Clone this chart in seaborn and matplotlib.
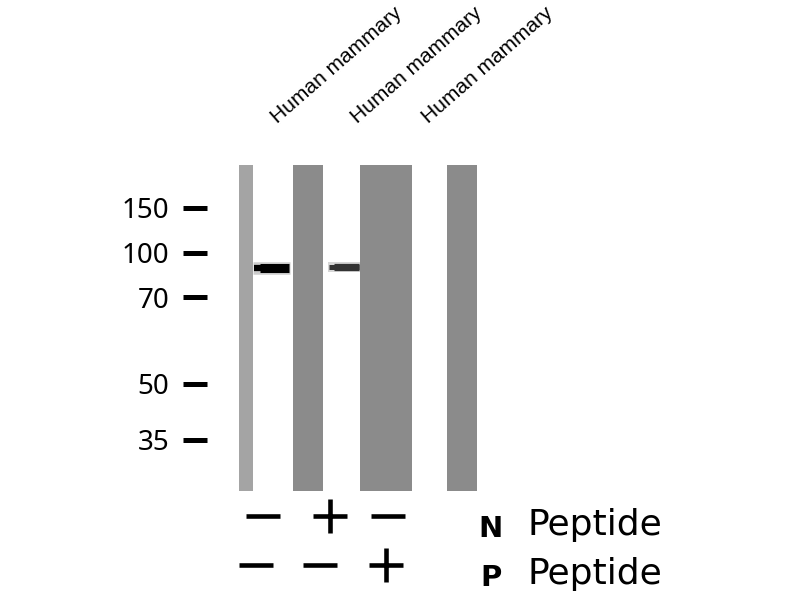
import numpy as np
import pandas as pd
import matplotlib
matplotlib.use('Agg')
import matplotlib.pyplot as plt
from matplotlib.ticker import NullLocator
from matplotlib.transforms import blended_transform_factory
import seaborn as sns

sns.set_style('white')
plt.rcParams['font.family'] = ['DejaVu Sans']
plt.rcParams['text.color'] = 'black'

lane_labels = ['Human mammary', 'Human mammary', 'Human mammary']
marker_kda = [150, 100, 70, 50, 35]
band_kda = [88.5, 89.3, np.nan]      # no band in lane 3
band_strength = [1.0, 0.8, 0.0]
n_peptide = ['-', '+', '-']
p_peptide = ['-', '-', '+']
row_names = ['N', 'P']

# layout (pixels of an 800x600 figure)
blot_left, blot_top, blot_w, blot_h = 239, 165, 238, 326
ladder_px = [43, 88, 132, 219, 275]   # ladder bands, distance from blot top
gray_strips = [(0, 14, '#a4a4a4'), (54, 84, '#8b8b8b'),
               (121, 173, '#8b8b8b'), (208, 238, '#8b8b8b')]
band_x = [(14, 51), (89, 121), (175, 206)]
label_x = [38, 118, 189]
sign_x = [[24, 91, 149], [17, 81, 147]]

# kDa <-> position on the gel (log-linear between ladder bands)
lk = np.log10(np.array(marker_kda[::-1], float))
lp = -np.array(ladder_px[::-1], float)
s0 = (lp[1] - lp[0]) / (lk[1] - lk[0])
s1 = (lp[-1] - lp[-2]) / (lk[-1] - lk[-2])


def kda_to_pos(x):
    l = np.log10(np.clip(np.asarray(x, float), 1e-6, None))
    y = np.interp(l, lk, lp)
    y = np.where(l < lk[0], lp[0] + (l - lk[0]) * s0, y)
    y = np.where(l > lk[-1], lp[-1] + (l - lk[-1]) * s1, y)
    return y


def pos_to_kda(y):
    y = np.asarray(y, float)
    l = np.interp(y, lp, lk)
    l = np.where(y < lp[0], lk[0] + (y - lp[0]) / s0, l)
    l = np.where(y > lp[-1], lk[-1] + (y - lp[-1]) / s1, l)
    return 10 ** l


fig = plt.figure(figsize=(8, 6), dpi=100)
ax = fig.add_axes([blot_left / 800, (600 - blot_top - blot_h) / 600,
                   blot_w / 800, blot_h / 600])
for s in ax.spines.values():
    s.set_visible(False)
ax.spines['left'].set_position(('outward', 23))
ax.set_yscale('function', functions=(kda_to_pos, pos_to_kda))
ax.set_xlim(0, blot_w)
ax.set_ylim(float(pos_to_kda(-blot_h)), float(pos_to_kda(0)))

# masked strips
for a, b, c in gray_strips:
    ax.axvspan(a, b, color=c, lw=0)

# bands
for kda, st, (x0, x1) in zip(band_kda, band_strength, band_x):
    if np.isnan(kda) or st <= 0:
        continue
    g = str(round(1 - st, 2))
    ax.hlines(kda, x0, x1, color=g, lw=9 * st, alpha=0.2, capstyle='butt')
    ax.hlines(kda, x0 + 0.2 * (x1 - x0), x1 - 1, color=g, lw=6.5 * st,
              capstyle='butt')
    ax.hlines(kda, x0 + 1, x1 - 1, color=g, lw=4.5 * st, capstyle='butt')

# ladder ticks
ax.set_yticks(marker_kda)
ax.set_yticklabels([str(m) for m in marker_kda])
ax.yaxis.set_minor_locator(NullLocator())
ax.set_xticks([])
ax.tick_params(axis='y', left=True, direction='out', length=17, width=3.6,
               pad=10, colors='black', labelsize=20, labelfontfamily='Noto Sans')

# lane labels
trans = blended_transform_factory(ax.transData, ax.transAxes)
for x, lab in zip(label_x, lane_labels):
    ax.text(x, 1.125, lab, transform=trans, rotation=41, rotation_mode='anchor',
            ha='left', va='baseline', fontsize=15, family='Liberation Sans',
            clip_on=False)

# peptide table
sax = fig.add_axes([blot_left / 800, (600 - 589.5) / 600, blot_w / 800, 98 / 600])
df = pd.DataFrame({'row': [0] * 3 + [1] * 3,
                   'sign': n_peptide + p_peptide,
                   'x': sign_x[0] + sign_x[1]})
for sign, marker in [('+', '+'), ('-', '_')]:
    sub = df[df['sign'] == sign]
    sns.scatterplot(data=sub, x='x', y='row', marker=marker, s=620, color='black',
                    linewidth=3.3, ax=sax, legend=False, clip_on=False)
sax.set_xlim(0, blot_w)
sax.set_ylim(1.5, -0.5)
sax.axis('off')
for r, name in enumerate(row_names):
    sax.text(252, r + 0.42, name, fontsize=21, fontweight='bold',
             ha='center', va='baseline', clip_on=False)
    sax.text(289, r + 0.38, 'Peptide', fontsize=26, ha='left', va='baseline',
             clip_on=False)

fig.savefig('out.png', dpi=100)
